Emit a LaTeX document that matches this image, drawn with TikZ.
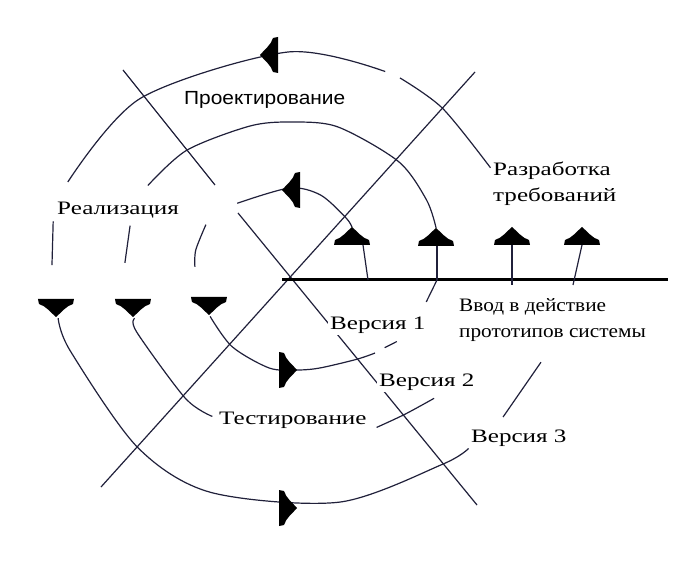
\documentclass[tikz,border=0pt]{standalone}
\usepackage{fontspec}
\setmainfont{Liberation Serif}[FakeStretch=1.32]
\newfontfamily\narrowfont{Liberation Serif}[FakeStretch=1.12]
\newfontfamily\phasefont{Liberation Sans}[FakeStretch=1.1]
\definecolor{ink}{RGB}{32,32,58}
\tikzset{
  loopline/.style={ink, line width=1.2pt},
  mainaxis/.style={black, line width=3pt},
  lbl/.style={font=\fontsize{19}{26}\selectfont, anchor=west, inner sep=2pt, fill=white, align=left},
  tiphead/.pic={\fill[black] (0,0) .. controls (-6,-5) and (-10,-11) .. (-17,-13) -- (-18,-18) -- (18,-18) -- (17,-13) .. controls (10,-11) and (6,-5) .. (0,0) -- cycle;}
}
\begin{document}
\begin{tikzpicture}[x=1pt,y=1pt]
  \useasboundingbox (-288,-284) rectangle (389,280);

  % Crossed lines
  \draw[loopline] (187,208) -- (-187,-207);
  \draw[loopline] (-165,210) -- (-73,95);
  \draw[loopline] (-50,67) -- (189,-225);

  % Axis
  \draw[mainaxis] (-6,0) -- (380,0);

  % Loop 1
  \draw[loopline] plot[smooth] coordinates {(39.6:83) (47:85) (69:91) (89:92) (123.5:92)};
  \draw[loopline] plot[smooth] coordinates {(146:99) (162:97) (172:94)};
  \draw[loopline] plot[smooth] coordinates {(205:86) (230:87) (258:90) (276:90.5) (290:93.6) (311:105) (320:113.6)};
  \draw[loopline] (325:118) -- (330.5:125);
  \draw[loopline] (351:140) -- (360:149);

  % Loop 2
  \draw[loopline] plot[smooth] coordinates {(19.4:157) (30:160) (47:162) (72:161) (89:158) (104:158.6) (128:164.6) (146:169)};
  \draw[loopline] (161:167) -- (174:164);
  \draw[loopline] plot[smooth] coordinates {(194:158) (199:160) (229:156.6) (241:156)};
  \draw[loopline] plot[smooth] coordinates {(301:172) (311:178) (321:188)};

  % Loop 3
  \draw[loopline] plot[smooth] coordinates {(29:231.5) (48:231) (61:231)};
  \draw[loopline] plot[smooth] coordinates {(65:230) (90:228) (129:234) (156:241)};
  \draw[loopline] (166:242) -- (176.4:236.5);
  \draw[loopline] plot[smooth] coordinates {(189.4:233) (198:229) (228:225) (250:226) (283:228) (310:240.5) (317:247)};
  \draw[loopline] plot[smooth] coordinates {(327.5:255) (342:266)};

  % Stems up from the axis
  \draw[loopline] (80,0) -- (75,35);
  \draw[loopline] (149,0) -- (149,35);
  \draw[loopline] (224,-5) -- (224,35);
  \draw[loopline] (285,-5) -- (294,35);

  % Heads
  \foreach \x/\y in {64/53, 148/52, 224/53, 294/53}
    \pic at (\x,\y) {tiphead};
  \foreach \x/\y in {-6/90, -28/225}
    \pic[rotate=90] at (\x,\y) {tiphead};
  \foreach \x/\y in {-79/-35, -155/-37, -232/-37}
    \pic[rotate=180] at (\x,\y) {tiphead};
  \foreach \x/\y in {9/-90, 9/-228}
    \pic[rotate=-90] at (\x,\y) {tiphead};

  % Labels
  \node[lbl, font=\phasefont\fontsize{19}{24}\selectfont] (proj) at (-106,180) {Проектирование};
  \node[lbl] (real) at (-233,70) {Реализация};
  \node[lbl] (req) at (203,96) {Разработка\\требований};
  \node[lbl, font=\narrowfont\fontsize{19}{26}\selectfont] (intro) at (169,-40.5) {Ввод в действие\\прототипов системы};
  \node[lbl] (v1) at (40,-45) {Версия 1};
  \node[lbl] (v2) at (89,-102) {Версия 2};
  \node[lbl] (v3) at (181,-158) {Версия 3};
  \node[lbl] (test) at (-71,-140) {Тестирование};
\end{tikzpicture}
\end{document}
